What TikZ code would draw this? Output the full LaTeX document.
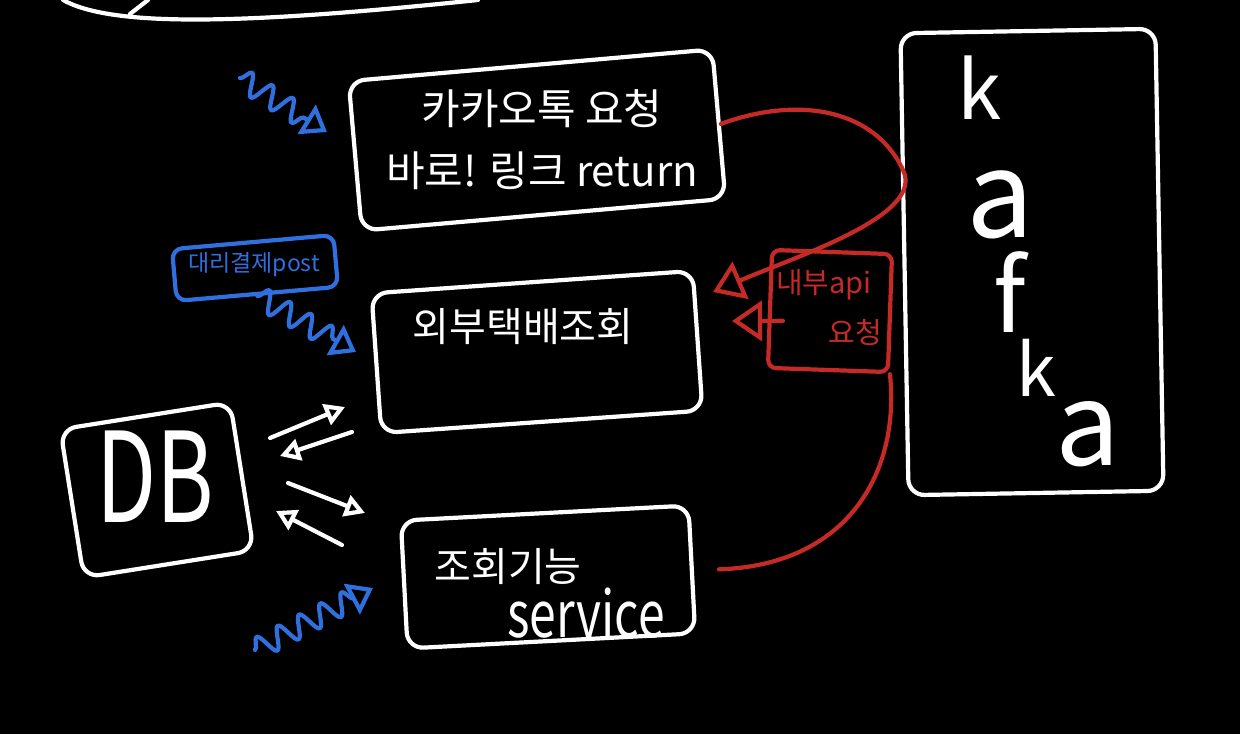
\documentclass[tikz,border=0pt]{standalone}
\usepackage{fontspec}
\setmainfont{Noto Sans CJK KR}
\usepackage{graphicx}
\usetikzlibrary{arrows.meta,decorations.pathmorphing}
\definecolor{bluepen}{RGB}{47,111,222}
\definecolor{redpen}{RGB}{198,42,38}

\begin{document}
\begin{tikzpicture}[x=1pt, y=-1pt, >={Triangle[open,length=20pt,width=22pt]},
  pen/.style={line width=4.2pt, line cap=round, line join=round},
  box/.style={pen, draw=#1, rounded corners=16pt, inner sep=0pt},
  box/.default=white,
  hand/.style={text=white, inner sep=0pt, font=\fontsize{#1}{#1}\selectfont},
  wave/.style={pen, draw=bluepen, >={Triangle[open,length=24pt,width=34pt]},
    decorate, decoration={snake, amplitude=11pt, segment length=24pt, post length=20pt}},
  redline/.style={pen, draw=redpen, >={Triangle[open,length=30pt,width=40pt]}}]

  \fill[black] (0,0) rectangle (1240,734);
  \useasboundingbox (0,0) rectangle (1240,734);

  \draw[pen, draw=white] (63,0) .. controls (110,26) and (230,26) .. (478,0);
  \draw[pen, draw=white] (130,14) -- (148,0);

  \node[box, minimum width=365pt, minimum height=150pt, rotate=5] (kakao) at (537,140) {};
  \node[box, minimum width=322pt, minimum height=140pt, rotate=4] (lookup) at (537,352) {};
  \node[box, minimum width=288pt, minimum height=128pt, rotate=3] (service) at (548,577) {};
  \node[box, minimum width=172pt, minimum height=150pt, rotate=9] (db) at (157,490) {};
  \node[box, minimum width=255pt, minimum height=462pt, rotate=1] (kafka) at (1032,262) {};
  \node[box=bluepen, minimum width=162pt, minimum height=52pt, rounded corners=10pt, rotate=5] (proxy) at (255,268) {};
  \node[box=redpen, minimum width=120pt, minimum height=118pt, rounded corners=8pt, rotate=-2] (internal) at (830,311) {};

  \node[text=white, inner sep=0pt, align=center, font=\fontsize{42}{62}\selectfont] (kakaotext) at (542,140) {카카오톡 요청\\바로! 링크 return};
  \node[hand=40] (lookuptext) at (523,327) {외부택배조회};
  \node[hand=40] (servicetext) at (508,567) {조회기능};
  \node[hand=64] (servicename) at (586,613) {\scalebox{0.75}[1]{service}};
  \node[hand=125] (dbtext) at (155,477) {\scalebox{0.7}[1]{DB}};
  \node[hand=23, text=bluepen] (proxytext) at (254,265) {대리결제post};
  \node[hand=29, text=redpen] (apitext) at (824,285) {내부api};
  \node[hand=29, text=redpen] (reqtext) at (855,333) {요청};

  \node[hand=80] (k1) at (980,88) {k};
  \node[hand=120] (a1) at (1000,205) {a};
  \node[hand=100] (f1) at (1010,292) {f};
  \node[hand=72] (k2) at (1036,368) {k};
  \node[hand=115] (a2) at (1088,434) {a};

  \coordinate (q1) at (270,438);
  \coordinate (q2) at (345,407);
  \coordinate (q3) at (352,432);
  \coordinate (q4) at (280,456);
  \coordinate (q5) at (288,483);
  \coordinate (q6) at (365,513);
  \coordinate (q7) at (342,545);
  \coordinate (q8) at (276,511);
  \draw[pen, draw=white, ->] (q1) -- (q2);
  \draw[pen, draw=white, ->] (q3) -- (q4);
  \draw[pen, draw=white, ->] (q5) -- (q6);
  \draw[pen, draw=white, ->] (q7) -- (q8);

  \coordinate (w1) at (240,78);
  \coordinate (w2) at (327,132);
  \coordinate (w3) at (356,352);
  \coordinate (w4) at (255,650);
  \coordinate (w5) at (373,588);
  \draw[wave, ->] (w1) -- (w2);
  \draw[wave, ->] (proxy.south) -- (w3);
  \draw[wave, ->] (w4) -- (w5);

  \coordinate (ret1) at (713,292);
  \coordinate (ret2) at (732,321);
  \draw[redline, ->] (kakao.east) .. controls (800,95) and (875,110) .. (903,170)
    .. controls (925,215) and (800,255) .. (ret1);
  \draw[redline, ->] ([xshift=15pt,yshift=-12pt]internal.west) -- (ret2);
  \draw[redline] (internal.south east) .. controls (900,470) and (850,565) .. ([xshift=25pt]service.east);
\end{tikzpicture}
\end{document}
